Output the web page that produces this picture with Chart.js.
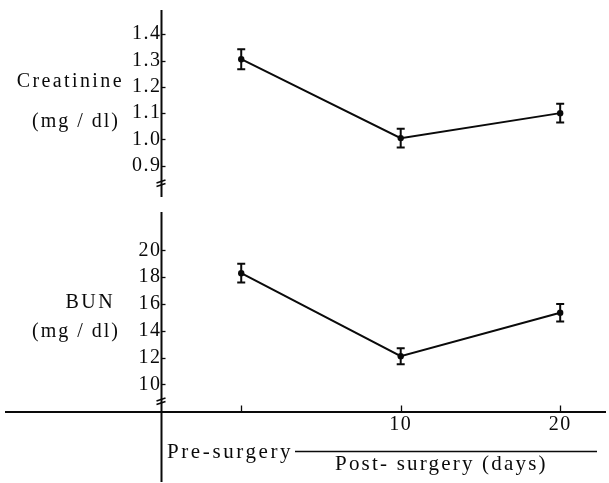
<!DOCTYPE html>
<html><head><meta charset="utf-8">
<script src="https://cdn.jsdelivr.net/npm/chart.js@4.4.1/dist/chart.umd.min.js"></script>
<style>html,body{margin:0;padding:0;background:#fff;}#wrap{width:609px;height:483px;}</style>
</head><body><div id="wrap"><canvas id="c" width="609" height="483"></canvas></div>
<script>
// ---- data ----
const days = [0, 10, 20];
const creatinine = [1.305, 1.005, 1.10];
const creatinineErr = [0.038, 0.036, 0.036];
const bun = [18.3, 12.1, 15.35];
const bunErr = [0.7, 0.6, 0.65];
const creatTicks = [0.9, 1.0, 1.1, 1.2, 1.3, 1.4];
const bunTicks = [10, 12, 14, 16, 18, 20];
const dayTickLabels = [10, 20];
const dayMarks = [0, 10, 20];
const creatTitle = ['Creatinine', '(mg / dl)'];
const bunTitle = ['BUN', '(mg / dl)'];
const preLabel = 'Pre-surgery';
const postLabel = 'Post- surgery (days)';

const FONT = "'Liberation Serif', 'DejaVu Serif', serif";
const BLACK = '#0a0a0a';

function setSpacing(ctx, v){ if ('letterSpacing' in ctx) ctx.letterSpacing = v; }

const decor = {
  id: 'decor',
  beforeDraw(chart){ setSpacing(chart.ctx, '1.5px'); },
  afterDraw(chart){
    const ctx = chart.ctx;
    const xs = chart.scales.x, yC = chart.scales.yC, yB = chart.scales.yB;
    const ca = chart.chartArea;
    const ax = Math.round(xs.getPixelForValue(-5)) + 0.5;
    ctx.save();
    setSpacing(ctx, '0px');
    ctx.strokeStyle = BLACK; ctx.fillStyle = BLACK;
    // vertical axis (two segments with a gap between panels)
    ctx.lineWidth = 2;
    ctx.beginPath();
    ctx.moveTo(ax, ca.top); ctx.lineTo(ax, 197);
    ctx.moveTo(ax, 212); ctx.lineTo(ax, 482);
    ctx.stroke();
    // break marks
    ctx.lineWidth = 1.6;
    [183, 401].forEach(by => {
      ctx.beginPath();
      ctx.moveTo(ax - 5, by); ctx.lineTo(ax + 4, by - 3);
      ctx.moveTo(ax - 5, by + 3.5); ctx.lineTo(ax + 4, by + 0.5);
      ctx.stroke();
    });
    // y tick marks (inside)
    ctx.lineWidth = 1.3;
    [[yC, creatTicks], [yB, bunTicks]].forEach(([s, t]) => {
      t.forEach(v => {
        const py = Math.round(s.getPixelForValue(v)) + 0.5;
        ctx.beginPath(); ctx.moveTo(ax, py); ctx.lineTo(ax + 4, py); ctx.stroke();
      });
    });
    // x tick marks (upward)
    const xb = Math.round(ca.bottom) + 0.5;
    dayMarks.forEach(d => {
      const px = Math.round(xs.getPixelForValue(d)) + 0.5;
      ctx.beginPath(); ctx.moveTo(px, xb); ctx.lineTo(px, xb - 7); ctx.stroke();
    });
    // error bars
    ctx.lineWidth = 2;
    [[yC, creatinine, creatinineErr], [yB, bun, bunErr]].forEach(([s, m, e]) => {
      m.forEach((v, i) => {
        const px = xs.getPixelForValue(days[i]);
        const t = s.getPixelForValue(v + e[i]);
        const b = s.getPixelForValue(v - e[i]);
        ctx.beginPath();
        ctx.moveTo(px, t); ctx.lineTo(px, b);
        ctx.moveTo(px - 4, t); ctx.lineTo(px + 4, t);
        ctx.moveTo(px - 4, b); ctx.lineTo(px + 4, b);
        ctx.stroke();
      });
    });
    // axis titles
    ctx.textAlign = 'right'; ctx.textBaseline = 'middle';
    ctx.font = '20px ' + FONT;
    setSpacing(ctx, '2.4px');
    ctx.fillText(creatTitle[0], 124, 82);
    ctx.fillText(bunTitle[0], 115, 303);
    setSpacing(ctx, '2px');
    ctx.fillText(creatTitle[1], 120, 122);
    ctx.fillText(bunTitle[1], 120, 332);
    // bottom labels
    setSpacing(ctx, '2.6px');
    ctx.font = '21px ' + FONT;
    ctx.textAlign = 'left'; ctx.textBaseline = 'alphabetic';
    ctx.fillText(preLabel, 167, 458);
    setSpacing(ctx, '2.2px');
    ctx.fillText(postLabel, 335, 470);
    ctx.lineWidth = 1.5;
    ctx.beginPath(); ctx.moveTo(295, 451.5); ctx.lineTo(597, 451.5); ctx.stroke();
    ctx.restore();
  }
};

const tickFont = { family: FONT, size: 20 };

new Chart(document.getElementById('c'), {
  type: 'line',
  data: {
    datasets: [
      { data: days.map((d, i) => ({ x: d, y: creatinine[i] })), yAxisID: 'yC',
        borderColor: BLACK, borderWidth: 2, pointRadius: 3.2, pointBackgroundColor: BLACK,
        pointBorderWidth: 0, tension: 0 },
      { data: days.map((d, i) => ({ x: d, y: bun[i] })), yAxisID: 'yB',
        borderColor: BLACK, borderWidth: 2, pointRadius: 3.2, pointBackgroundColor: BLACK,
        pointBorderWidth: 0, tension: 0 }
    ]
  },
  options: {
    responsive: false, animation: false, devicePixelRatio: 1,
    layout: { padding: { left: 6, right: 2, top: 10, bottom: 41 } },
    plugins: { legend: { display: false }, tooltip: { enabled: false } },
    scales: {
      x: {
        type: 'linear', position: 'bottom', min: -14.75, max: 22.81,
        afterFit: s => { s.height = 30; s.paddingLeft = 0; s.paddingRight = 0; },
        afterBuildTicks: s => { s.ticks = dayTickLabels.map(v => ({ value: v })); },
        grid: { display: false },
        border: { display: true, color: BLACK, width: 2 },
        ticks: { font: tickFont, color: BLACK, padding: -7, maxRotation: 0, autoSkip: false,
                 callback: v => String(v) }
      },
      yC: {
        type: 'linear', position: { x: -5 }, min: -0.036, max: 1.492,
        afterBuildTicks: s => { s.ticks = creatTicks.map(v => ({ value: v })); },
        afterFit: s => { s.paddingTop = 0; s.paddingBottom = 0; s.paddingLeft = 0; s.paddingRight = 0; },
        grid: { display: false }, border: { display: false },
        ticks: { font: tickFont, color: BLACK, padding: 2, autoSkip: false,
                 callback: v => Number(v).toFixed(1) }
      },
      yB: {
        type: 'linear', position: { x: -5 }, min: 7.935, max: 37.96,
        afterBuildTicks: s => { s.ticks = bunTicks.map(v => ({ value: v })); },
        afterFit: s => { s.paddingTop = 0; s.paddingBottom = 0; s.paddingLeft = 0; s.paddingRight = 0; },
        grid: { display: false }, border: { display: false },
        ticks: { font: tickFont, color: BLACK, padding: 2, autoSkip: false,
                 callback: v => String(v) }
      }
    }
  },
  plugins: [decor]
});
</script>
</body></html>
